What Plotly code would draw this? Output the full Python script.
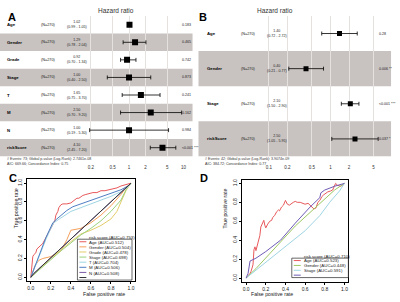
import math
import plotly.graph_objects as go

W, H = 400, 302
def px(x): return x / W
def py(y): return 1 - y / H

# ---------------- Panel A: multivariate forest ----------------
a_vars = ["Age", "Gender", "Grade", "Stage", "T", "M", "N", "riskScore"]
a_n = ["(N=270)"] * 8
a_hr = [1.02, 1.29, 0.92, 1.00, 1.65, 2.50, 1.00, 4.10]
a_lo = [0.99, 0.78, 0.70, 0.40, 0.75, 0.70, 0.19, 2.45]
a_hi = [1.05, 2.04, 1.34, 2.50, 3.70, 9.20, 5.30, 7.20]
a_p = ["0.183", "0.465", "0.742", "0.873", "0.241", "0.162", "0.984", "<0.001 ***"]
a_ticks = [0.2, 0.5, 1, 2, 5, 10]
a_foot = ["# Events: 73; Global p-value (Log-Rank): 2.7461e-08",
          "AIC: 669.66; Concordance Index: 0.75"]

# ---------------- Panel B: forest ----------------
b_vars = ["Age", "Gender", "Stage", "riskScore"]
b_n = ["(N=270)"] * 4
b_hr = [1.40, 0.40, 2.10, 2.50]
b_lo = [0.72, 0.21, 1.50, 1.05]
b_hi = [2.72, 0.77, 2.90, 5.95]
b_p = ["0.28", "0.006 **", "<0.001 ***", "0.037 *"]
b_ticks = [0.1, 0.2, 0.5, 1, 2, 5]
b_foot = ["# Events: 42; Global p-value (Log-Rank): 3.9074e-09",
          "AIC: 384.72; Concordance Index: 0.77"]

# ---------------- Panel C: ROC ----------------
c_names = ["risk score", "Age", "Gender", "Grade", "Stage", "T", "M", "N"]
c_auc = ["0.753", "0.512", "0.504", "0.478", "0.698", "0.704", "0.506", "0.508"]
c_colors = ["#E8585B", "#F5A05A", "#E3CD6A", "#9CD27C", "#9FD5E3", "#4F7EC4", "#7A5AA8", "#333333"]
c_fpr = [
    [0, 0.01, 0.02, 0.03, 0.05, 0.06, 0.08, 0.10, 0.12, 0.14, 0.16, 0.18, 0.20, 0.22, 0.24, 0.25, 0.27,
     0.28, 0.30, 0.32, 0.36, 0.40, 0.42, 0.44, 0.46, 0.48, 0.50, 0.52, 0.55, 0.58, 0.62, 0.66, 0.70,
     0.74, 0.78, 0.82, 0.86, 0.90, 0.94, 0.97, 1.0],
    [0, 0.04, 0.08, 0.12, 0.20, 0.30, 0.36, 0.40, 0.50, 0.60, 0.70, 0.80, 0.90, 0.95, 1.0],
    [0, 0.20, 0.40, 0.50, 0.60, 0.70, 0.80, 0.86, 0.90, 0.95, 1.0],
    [0, 0.30, 0.50, 0.60, 0.70, 0.80, 0.90, 0.96, 1.0],
    [0, 0.05, 0.10, 0.15, 0.20, 0.23, 0.30, 0.40, 0.50, 0.60, 0.70, 0.80, 0.90, 0.97, 1.0],
    [0, 0.05, 0.10, 0.15, 0.20, 0.22, 0.26, 0.30, 0.36, 0.42, 0.50, 0.60, 0.70, 0.80, 0.90, 0.97, 1.0],
    [0, 0.02, 1.0],
    [0, 0.03, 1.0],
]
c_tpr = [
    [0, 0.12, 0.22, 0.24, 0.26, 0.30, 0.32, 0.35, 0.36, 0.40, 0.44, 0.48, 0.52, 0.57, 0.60, 0.66, 0.70,
     0.74, 0.77, 0.78, 0.78, 0.79, 0.81, 0.82, 0.84, 0.84, 0.86, 0.87, 0.88, 0.89, 0.90, 0.90, 0.92,
     0.92, 0.93, 0.94, 0.95, 0.97, 0.98, 0.99, 1.0],
    [0, 0.12, 0.18, 0.20, 0.22, 0.28, 0.40, 0.50, 0.52, 0.58, 0.66, 0.76, 0.88, 0.95, 1.0],
    [0, 0.20, 0.38, 0.46, 0.50, 0.55, 0.62, 0.70, 0.80, 0.92, 1.0],
    [0, 0.28, 0.45, 0.52, 0.60, 0.70, 0.82, 0.95, 1.0],
    [0, 0.14, 0.27, 0.40, 0.52, 0.58, 0.63, 0.70, 0.74, 0.78, 0.82, 0.86, 0.91, 0.96, 1.0],
    [0, 0.15, 0.28, 0.42, 0.54, 0.58, 0.62, 0.66, 0.71, 0.75, 0.78, 0.81, 0.85, 0.89, 0.93, 0.97, 1.0],
    [0, 0.03, 1.0],
    [0, 0.04, 1.0],
]

# ---------------- Panel D: ROC ----------------
d_names = ["risk score", "Age", "Gender", "Stage"]
d_auc = ["0.710", "0.523", "0.448", "0.591"]
d_colors = ["#E8585B", "#9DC862", "#9FD5E3", "#6F5BB5"]
d_fpr = [
    [0, 0.02, 0.04, 0.05, 0.06, 0.07, 0.08, 0.09, 0.10, 0.11, 0.12, 0.13, 0.14, 0.15, 0.16, 0.18, 0.19,
     0.20, 0.22, 0.24, 0.26, 0.27, 0.29, 0.31, 0.33, 0.34, 0.36, 0.38, 0.40, 0.42, 0.44, 0.46, 0.48,
     0.50, 0.52, 0.55, 0.58, 0.60, 0.63, 0.66, 0.69, 0.71, 0.73, 0.75, 0.77, 0.79, 0.81, 0.83, 0.86,
     0.88, 0.91, 0.93, 0.96, 0.98, 1.0],
    [0, 0.10, 0.50, 0.90, 1.0],
    [0, 0.30, 0.60, 0.75, 0.85, 0.95, 1.0],
    [0, 0.02, 0.04, 0.10, 0.20, 0.35, 0.50, 0.65, 0.75, 0.76, 0.80, 0.85, 0.90, 1.0],
]
d_tpr = [
    [0, 0.02, 0.05, 0.07, 0.10, 0.14, 0.30, 0.33, 0.29, 0.33, 0.38, 0.40, 0.45, 0.54, 0.57, 0.61, 0.56,
     0.53, 0.57, 0.60, 0.61, 0.64, 0.66, 0.70, 0.72, 0.71, 0.75, 0.77, 0.82, 0.78, 0.77, 0.79, 0.80,
     0.81, 0.80, 0.80, 0.79, 0.78, 0.79, 0.76, 0.73, 0.74, 0.80, 0.82, 0.86, 0.88, 0.90, 0.91, 0.92,
     0.93, 1.0, 0.98, 0.97, 0.98, 1.0],
    [0, 0.10, 0.55, 0.93, 1.0],
    [0, 0.25, 0.50, 0.66, 0.80, 0.92, 1.0],
    [0, 0.05, 0.18, 0.21, 0.28, 0.40, 0.58, 0.75, 0.85, 0.90, 0.93, 0.95, 0.97, 1.0],
]

FONT = "Liberation Sans, Arial, sans-serif"
SHADE = "#C8C3C0"
fig = go.Figure()
shapes, annots = [], []

def forest(xa, ya, vars_, ns, hr, lo, hi, pv, ticks, foot, left, right, xcols, title_x, msize):
    n = len(vars_)
    xid = "x" if xa == 1 else f"x{xa}"
    yid = "y" if ya == 1 else f"y{ya}"
    fig.add_trace(go.Scatter(
        x=hr, y=list(range(n)), mode="markers", xaxis=xid, yaxis=yid, showlegend=False,
        marker=dict(symbol="square", size=msize, color="black"),
        error_x=dict(type="data", symmetric=False,
                     array=[h - v for h, v in zip(hi, hr)],
                     arrayminus=[v - l for v, l in zip(hr, lo)],
                     color="black", thickness=0.8, width=2)))
    for i in range(n):
        if i % 2 == 1:
            shapes.append(dict(type="rect", xref="paper", yref=yid, x0=px(left), x1=px(right),
                               y0=i - 0.5, y1=i + 0.5, fillcolor=SHADE, line=dict(width=0), layer="below"))
        annots.append(dict(xref="paper", yref=yid, x=px(xcols[0]), y=i, text=f"<b>{vars_[i]}</b>",
                           xanchor="left", showarrow=False, font=dict(size=4.3, color="black")))
        annots.append(dict(xref="paper", yref=yid, x=px(xcols[1]), y=i, text=ns[i],
                           xanchor="center", showarrow=False, font=dict(size=3.8, color="#222")))
        annots.append(dict(xref="paper", yref=yid, x=px(xcols[2]), y=i,
                           text=f"{hr[i]:.2f}<br>({lo[i]:.2f} - {hi[i]:.2f})",
                           xanchor="center", showarrow=False, font=dict(size=3.6, color="#222")))
        annots.append(dict(xref="paper", yref=yid, x=px(xcols[3]), y=i, text=pv[i],
                           xanchor="left", showarrow=False, font=dict(size=3.6, color="#222")))
    shapes.append(dict(type="line", xref=xid, yref="paper", x0=0, x1=0, y0=py(158), y1=py(15),
                       line=dict(color="#8A8A8A", width=0.9)))
    annots.append(dict(xref="paper", yref="paper", x=px(title_x), y=py(4), text="Hazard ratio",
                       showarrow=False, font=dict(size=6.5, color="#333")))
    for k, t in enumerate(foot):
        annots.append(dict(xref="paper", yref="paper", x=px(left + 5), y=py(159 + 4.5 * k), text=t,
                           xanchor="left", showarrow=False, font=dict(size=3.6, color="#333")))

forest(1, 1, a_vars, a_n, a_hr, a_lo, a_hi, a_p, a_ticks, a_foot, 0, 194, [5, 49, 78, 181], 97, 6)
forest(2, 2, b_vars, b_n, b_hr, b_lo, b_hi, b_p, b_ticks, b_foot, 200, 394, [207, 250, 279, 380], 297, 5)

def roc(xa, names, aucs, colors, fprs, tprs, box):
    xid, yid = f"x{xa}", f"y{xa}"
    for nm, c, f, t in zip(names, colors, fprs, tprs):
        fig.add_trace(go.Scatter(x=f, y=t, mode="lines", xaxis=xid, yaxis=yid, showlegend=False,
                                 line=dict(color=c, width=1), name=nm))
    bx0, by0, bx1, by1 = box
    shapes.append(dict(type="rect", xref="paper", yref="paper", x0=px(bx0), x1=px(bx1),
                       y0=py(by1), y1=py(by0), line=dict(color="black", width=0.6),
                       fillcolor="white", layer="above"))
    step = (by1 - by0) / len(names)
    for i, (nm, a, c) in enumerate(zip(names, aucs, colors)):
        yy = by0 + step * (i + 0.5)
        shapes.append(dict(type="line", xref="paper", yref="paper", x0=px(bx0 + 2), x1=px(bx0 + 9),
                           y0=py(yy), y1=py(yy), line=dict(color=c, width=1), layer="above"))
        annots.append(dict(xref="paper", yref="paper", x=px(bx0 + 10), y=py(yy),
                           text=f"{nm} (AUC={a})", xanchor="left", showarrow=False,
                           font=dict(size=4.4, color="#222")))

roc(3, c_names, c_auc, c_colors, c_fpr, c_tpr, (78, 239, 133, 280))
roc(4, d_names, d_auc, d_colors, d_fpr, d_tpr, (294, 258, 351, 277.5))

def log_range(x_left, x_right, x_one, ppd):
    return [(x_left - x_one) / ppd, (x_right - x_one) / ppd]

forest_x = dict(type="log", showline=False, zeroline=False, showgrid=True, gridcolor="#E4E1DF",
                gridwidth=0.6, ticks="", tickfont=dict(size=4.5, color="#333"), anchor="free",
                position=py(163))
hide_y = dict(visible=False, showgrid=False, zeroline=False)

roc_ax = dict(range=[-0.04, 1.04], showline=True, mirror=True, linecolor="black", linewidth=0.8,
              showgrid=False, zeroline=False, ticks="outside", ticklen=2, tickwidth=0.6,
              tickcolor="black", tickmode="array", tickvals=[0, 0.2, 0.4, 0.6, 0.8, 1.0],
              ticktext=["0.0", "0.2", "0.4", "0.6", "0.8", "1.0"], tickfont=dict(size=5, color="#222"))

fig.update_layout(
    width=W, height=H, margin=dict(l=0, r=0, t=0, b=0),
    paper_bgcolor="white", plot_bgcolor="rgba(0,0,0,0)", font=dict(family=FONT),
    xaxis=dict(forest_x, domain=[px(60), px(185)], range=log_range(60, 185, 130, 55),
               tickvals=a_ticks, ticktext=[str(t) for t in a_ticks]),
    yaxis=dict(hide_y, domain=[py(156), py(15)], range=[len(a_vars) - 0.5, -0.5]),
    xaxis2=dict(forest_x, domain=[px(265), px(392)], range=log_range(265, 392, 333, 62),
                tickvals=b_ticks, ticktext=[str(t) for t in b_ticks]),
    yaxis2=dict(hide_y, domain=[py(156), py(15)], range=[len(b_vars) - 0.5, -0.5]),
    xaxis3=dict(roc_ax, domain=[px(27), px(136)], anchor="y3"),
    yaxis3=dict(roc_ax, domain=[py(281), py(179)], anchor="x3", tickangle=-90),
    xaxis4=dict(roc_ax, domain=[px(244), px(351)], anchor="y4"),
    yaxis4=dict(roc_ax, domain=[py(281.8), py(179.2)], anchor="x4", tickangle=-90),
)

for lbl, x, y in [("A", 6, 8), ("B", 205, 8), ("C", 7, 178), ("D", 206, 178)]:
    annots.append(dict(xref="paper", yref="paper", x=px(x), y=py(y), text=f"<b>{lbl}</b>",
                       showarrow=False, font=dict(size=11, color="black")))
for x, y, ang in [(81.5, 298.5, 0), (297.5, 298.5, 0), (11, 230, -90), (227, 230, -90)]:
    annots.append(dict(xref="paper", yref="paper", x=px(x), y=py(y),
                       text="False positive rate" if ang == 0 else "True positive rate",
                       textangle=ang, showarrow=False, font=dict(size=5.2, color="#222")))

fig.update_layout(shapes=shapes, annotations=annots)
fig.write_html("out.html", config={"displayModeBar": False},
               post_script="document.body.style.margin='0';document.body.style.padding='0';")
